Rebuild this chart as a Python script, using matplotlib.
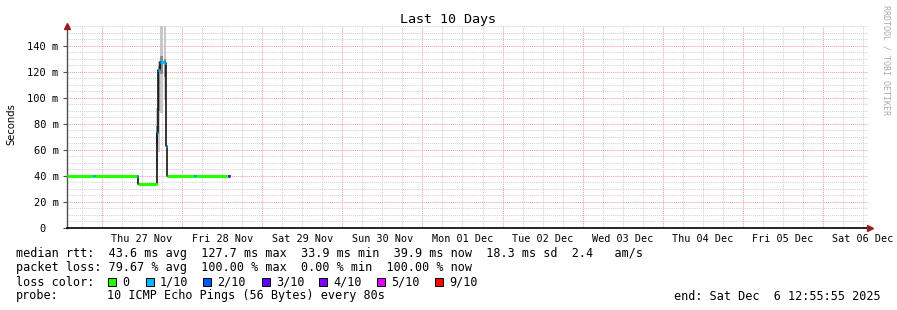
import matplotlib
matplotlib.use('Agg')
import matplotlib.pyplot as plt
from matplotlib.patches import Rectangle

W, H = 897, 310

# ---------------- data ----------------
# hours since start of graph (Wed Nov 26 12:55:55 2025)
sample_h = [0.0, 7.8, 8.4, 20.85, 21.3, 26.85, 27.3, 27.9, 29.25, 29.55, 29.9, 38.1, 38.7, 48.3]
sample_end_h = 48.9
median_ms = [40.0, 40.0, 40.0, 40.0, 33.9, 73.0, 121.0, 127.7, 126.5, 63.0, 39.9, 39.9, 39.9, 39.9]
loss_cnt = [0, 1, 0, 1, 0, 1, 1, 1, 1, 1, 0, 1, 0, 3]

smoke_start_h = [26.7, 27.3, 27.9, 29.0]
smoke_end_h = [27.3, 27.9, 28.85, 29.55]
smoke_lo = [45, 58, 88, 98]
smoke_hi = [92, 128, 155, 155]
smoke_in_lo = [64, 90, 118, 116]
smoke_in_hi = [78, 124, 132, 130]

day_labels = ['Thu 27 Nov', 'Fri 28 Nov', 'Sat 29 Nov', 'Sun 30 Nov', 'Mon 01 Dec',
              'Tue 02 Dec', 'Wed 03 Dec', 'Thu 04 Dec', 'Fri 05 Dec', 'Sat 06 Dec']
first_midnight_h = 10.5
y_ticks = [0, 20, 40, 60, 80, 100, 120, 140]
y_labels = ['0  ', '20 m', '40 m', '60 m', '80 m', '100 m', '120 m', '140 m']

loss_colors = ['#26ff00', '#00b8ff', '#0059ff', '#5e00ff', '#7e00ff', '#dd00ff', '#ff0000']
loss_names = ['0', '1/10', '2/10', '3/10', '4/10', '5/10', '9/10']

stats_rtt = "median rtt:  43.6 ms avg  127.7 ms max  33.9 ms min  39.9 ms now  18.3 ms sd  2.4   am/s"
stats_loss = "packet loss: 79.67 % avg  100.00 % max  0.00 % min  100.00 % now"
probe_txt = "10 ICMP Echo Pings (56 Bytes) every 80s"
end_txt = "end: Sat Dec  6 12:55:55 2025"

MONO = 'DejaVu Sans Mono'

# ---------------- figure ----------------
fig = plt.figure(figsize=(W / 100, H / 100), dpi=100)
fig.patch.set_facecolor('white')
x0, x1, ytop, ybot = 67, 868, 26, 228
ax = fig.add_axes([x0 / W, 1 - ybot / H, (x1 - x0) / W, (ybot - ytop) / H])
ax.set_xlim(0, 240)
ax.set_ylim(0, 155)

# grid
dot = (0, (1, 1))
for k in range(0, 45):
    xv = first_midnight_h - 6 + 6 * k
    if 0 < xv < 240:
        is_major = abs((xv - first_midnight_h) % 24) < 1e-6
        ax.axvline(xv, color='#f2a0a0' if is_major else '#d2d2d2', lw=0.75, ls=dot, zorder=0)
for yv in range(5, 156, 5):
    ax.axhline(yv, color='#f2a0a0' if yv % 20 == 0 else '#d2d2d2', lw=0.75, ls=dot, zorder=0)

# smoke
for s, e, lo, hi in zip(smoke_start_h, smoke_end_h, smoke_lo, smoke_hi):
    ax.fill_between([s, e], lo, hi, color='#c8c8c8', lw=0, zorder=1)
for s, e, lo, hi in zip(smoke_start_h, smoke_end_h, smoke_in_lo, smoke_in_hi):
    ax.fill_between([s, e], lo, hi, color='#8c8c8c', lw=0, zorder=1)

# median step line (black) + loss coloured segments
t_ext = sample_h + [sample_end_h]
m_ext = median_ms + [median_ms[-1]]
ax.step(t_ext, m_ext, where='post', color='black', lw=1.1, zorder=2)
for i in range(len(sample_h)):
    c = loss_colors[min(loss_cnt[i], 6)]
    ax.hlines(median_ms[i], t_ext[i], t_ext[i + 1], color=c, lw=2.3, zorder=3,
              capstyle='butt')

# axes styling
for sp in ['top', 'right']:
    ax.spines[sp].set_visible(False)
ax.spines['left'].set_color('#505050')
ax.spines['left'].set_linewidth(1.0)
ax.spines['bottom'].set_color('black')
ax.spines['bottom'].set_linewidth(1.2)
ax.set_yticks(y_ticks, y_labels)
ax.tick_params(axis='y', length=3, width=0.8, color='#505050', pad=3,
               labelsize=7.5, labelfontfamily=MONO)
ax.set_xticks([first_midnight_h + 12 + 24 * k for k in range(len(day_labels))], day_labels)
ax.tick_params(axis='x', length=0, pad=4, labelsize=7.3, labelfontfamily=MONO)

# arrows
ax.plot([0], [1.0], marker='^', ms=4, color='#9b1c1c', transform=ax.transAxes,
        clip_on=False, zorder=5)
ax.plot([1.002], [0], marker='>', ms=4, color='#9b1c1c', transform=ax.transAxes,
        clip_on=False, zorder=5)

# texts
fig.text(448 / W, 1 - 19 / H, 'Last 10 Days', ha='center', va='center',
         family=MONO, fontsize=9.6)
fig.text(11 / W, 1 - 124 / H, 'Seconds', rotation=90, ha='center', va='center',
         family='DejaVu Sans', fontsize=7.2)
fig.text(886 / W, 1 - 60 / H, 'RRDTOOL / TOBI OETIKER', rotation=270, ha='center',
         va='center', family=MONO, fontsize=6.0, color='#aaaaaa')

rows = [254, 268, 282, 296]
fs = 8.45
fig.text(16 / W, 1 - rows[0] / H, stats_rtt, va='center', family=MONO, fontsize=fs)
fig.text(16 / W, 1 - rows[1] / H, stats_loss, va='center', family=MONO, fontsize=fs)
fig.text(16 / W, 1 - rows[2] / H, 'loss color:', va='center', family=MONO, fontsize=fs)
box_x = [108, 146, 203, 262, 319, 377, 435]
for bx, c, nm in zip(box_x, loss_colors, loss_names):
    fig.patches.append(Rectangle((bx / W, 1 - (rows[2] + 4) / H), 8 / W, 8 / H,
                                 transform=fig.transFigure, facecolor=c,
                                 edgecolor='black', lw=0.7))
    fig.text((bx + 14) / W, 1 - rows[2] / H, nm, va='center', family=MONO, fontsize=fs)
fig.text(16 / W, 1 - rows[3] / H, 'probe:', va='center', family=MONO, fontsize=fs)
fig.text(107 / W, 1 - rows[3] / H, probe_txt, va='center', family=MONO, fontsize=fs)
fig.text(881 / W, 1 - rows[3] / H, end_txt, va='center', ha='right', family=MONO, fontsize=fs)

fig.savefig('out.png', dpi=100, facecolor='white')
